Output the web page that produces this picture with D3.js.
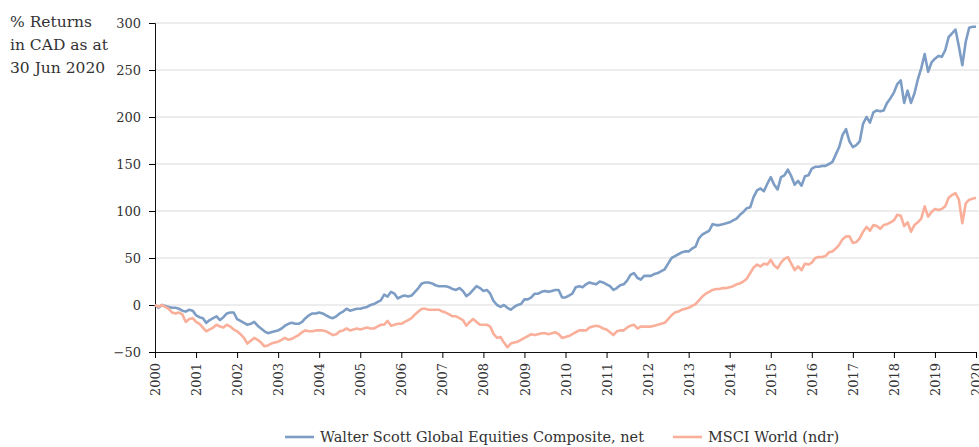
<!DOCTYPE html>
<html>
<head>
<meta charset="utf-8">
<script src="https://cdn.jsdelivr.net/npm/d3@7"></script>
<style>
  body { margin: 0; background: #fff; }
  svg text { font-family: "DejaVu Serif", serif; fill: #333; }
</style>
</head>
<body>
<div id="chart"></div>
<script>
// monthly values, Jan 2000 .. Jan 2020
const startYear = 2000
const yearTicks = d3.range(2000, 2021)
const yTicks = [-50, 0, 50, 100, 150, 200, 250, 300]
const seriesNames = ['Walter Scott Global Equities Composite, net', 'MSCI World (ndr)']

const walterScott = [
  0, -3, 0, -1, -2, -3, -3, -4, -6, -7, -5, -6,
  -11, -13, -14, -19, -16, -14, -12, -16, -13, -9, -8, -8,
  -15, -17, -19, -21, -20, -18, -22, -25, -28, -30, -29, -28,
  -27, -25, -22, -20, -19, -20, -20, -18, -14, -11, -9, -9,
  -8, -9, -11, -13, -14, -12, -9, -7, -4, -6, -5, -4,
  -4, -3, -2, 0, 1, 3, 5, 11, 9, 14, 12, 7,
  9, 10, 9, 10, 14, 18, 23, 24, 24, 23, 21, 20,
  20, 20, 19, 17, 16, 18, 15, 9.5, 12, 16, 20, 18,
  15, 16, 12, 4, 0, -2, 0, -3, -5, -2, 0, 1,
  6, 6, 8, 12, 12, 14, 15, 14, 15, 16, 16, 8,
  8, 10, 12, 19, 20, 19, 22, 24, 23, 22, 25, 24,
  22, 20, 16, 18, 21, 22, 26, 32, 34, 29, 27, 31,
  31, 31, 33, 34, 36, 38, 44, 50, 52, 54, 56, 57,
  57, 60, 62, 71, 75, 77, 79, 86, 85, 85, 86, 87,
  88, 90, 92, 96, 99, 103, 104, 115, 122, 124, 121, 129,
  136, 128, 123, 136, 138, 144, 137, 128, 132, 127, 137, 138,
  145, 147, 147, 148, 148, 150, 152, 160, 168, 181, 187, 174,
  168, 170, 174, 193, 200, 194, 205, 207, 206, 207, 215, 220,
  226, 235, 239, 215, 228, 215, 225, 240, 252, 267, 248, 258,
  262, 265, 264, 271, 285, 289, 293, 275, 255, 280, 295, 296,
  296
]

const msciWorld = [
  0, -2, 0, -2, -4, -8, -9, -8, -10, -18, -15, -14,
  -18, -20, -24, -28, -26, -24, -21, -23, -24, -21, -23, -26,
  -28, -31, -35, -41, -38, -35, -37, -40, -44, -43, -41, -40,
  -39, -37, -35, -37, -36, -34, -32, -29, -27, -28, -28, -27,
  -27, -27, -28, -30, -32, -31, -28, -27, -25, -27, -26, -25,
  -26, -25, -24, -25, -25, -23, -21, -21, -17, -22, -21, -20,
  -20, -18, -16, -14, -10, -7, -4, -4, -5, -5, -5, -5,
  -7, -8, -10, -12, -12, -14, -16, -22, -18, -15, -18, -21,
  -21, -21, -23, -31, -35, -34, -40, -45, -41, -40, -39, -37,
  -35, -33, -31, -32, -31, -30, -30, -31, -30, -29, -31, -35,
  -34, -33, -31, -29, -27, -27, -27, -24, -23, -22, -23, -25,
  -26, -29, -32, -28, -27, -27, -24, -22, -21, -25, -23, -23,
  -23, -23, -22, -21, -20, -19, -15, -11, -8, -7, -5, -4,
  -3, -1, 1, 5, 9, 12, 14, 16, 17, 17, 18, 18,
  19, 20, 22, 23, 25, 28, 34, 40, 43, 41, 44, 43,
  48, 42, 39, 45, 49, 51, 44, 37, 41, 37, 44, 43,
  45, 50, 51, 51, 52, 56, 57, 60, 64, 70, 73, 73,
  66, 67, 71, 78, 83, 79, 85, 84, 81, 85, 86, 88,
  90, 96, 95, 84, 88, 78, 85, 88, 92, 105, 94, 99,
  102, 101, 102, 105, 114, 117, 119, 112, 87, 108, 112, 113,
  114
]

const colors = ['#7d9dc5', '#f9af9a']

const width = 979
const height = 447
const margin = { top: 23, right: 3, bottom: 95, left: 155 }

const svg = d3.select('#chart')
  .append('svg')
  .attr('width', width)
  .attr('height', height)

const x = d3.scaleLinear()
  .domain([2000, 2020])
  .range([margin.left, width - margin.right])

const y = d3.scaleLinear()
  .domain([-50, 300])
  .range([height - margin.bottom, margin.top])

// gridlines
svg.append('g')
  .selectAll('line')
  .data(yTicks.filter(d => d > -50))
  .enter()
  .append('line')
  .attr('x1', margin.left)
  .attr('x2', width)
  .attr('y1', d => y(d))
  .attr('y2', d => y(d))
  .attr('stroke', '#dcdcdc')
  .attr('stroke-width', 1.2)

// y axis
const yAxis = svg.append('g')
  .attr('transform', `translate(${margin.left},0)`)
  .call(d3.axisLeft(y).tickValues(yTicks).tickSize(6).tickPadding(8))
yAxis.selectAll('text').style('font-size', '13px')
yAxis.select('.domain').attr('stroke', '#111')

// x axis
const xAxis = svg.append('g')
  .attr('transform', `translate(0,${y(-50)})`)
  .call(d3.axisBottom(x).tickValues(yearTicks).tickFormat(d3.format('d')).tickSize(6))
xAxis.select('.domain').attr('stroke', '#111')
xAxis.selectAll('text')
  .style('font-size', '13px')
  .attr('text-anchor', 'end')
  .attr('transform', 'rotate(-90)')
  .attr('x', -11)
  .attr('y', 0)
  .attr('dy', '0.35em')

// lines
const line = d3.line()
  .x((d, i) => x(startYear + i / 12))
  .y(d => y(d))

;[walterScott, msciWorld].forEach((s, k) => {
  svg.append('path')
    .datum(s)
    .attr('fill', 'none')
    .attr('stroke', colors[k])
    .attr('stroke-width', 2.6)
    .attr('stroke-linejoin', 'round')
    .attr('d', line)
})

// y label
svg.append('text')
  .attr('x', 10)
  .attr('y', 27)
  .style('font-size', '15.5px')
  .selectAll('tspan')
  .data(['% Returns', 'in CAD as at', '30 Jun 2020'])
  .enter()
  .append('tspan')
  .attr('x', 10)
  .attr('dy', (d, i) => i === 0 ? 0 : 23)
  .text(d => d)

// legend
const legendX = [285, 673]
seriesNames.forEach((name, k) => {
  svg.append('line')
    .attr('x1', legendX[k])
    .attr('x2', legendX[k] + 29)
    .attr('y1', 437)
    .attr('y2', 437)
    .attr('stroke', colors[k])
    .attr('stroke-width', 2.6)
  svg.append('text')
    .attr('x', legendX[k] + 35)
    .attr('y', 442)
    .style('font-size', '14.5px')
    .text(name)
})
</script>
</body>
</html>
